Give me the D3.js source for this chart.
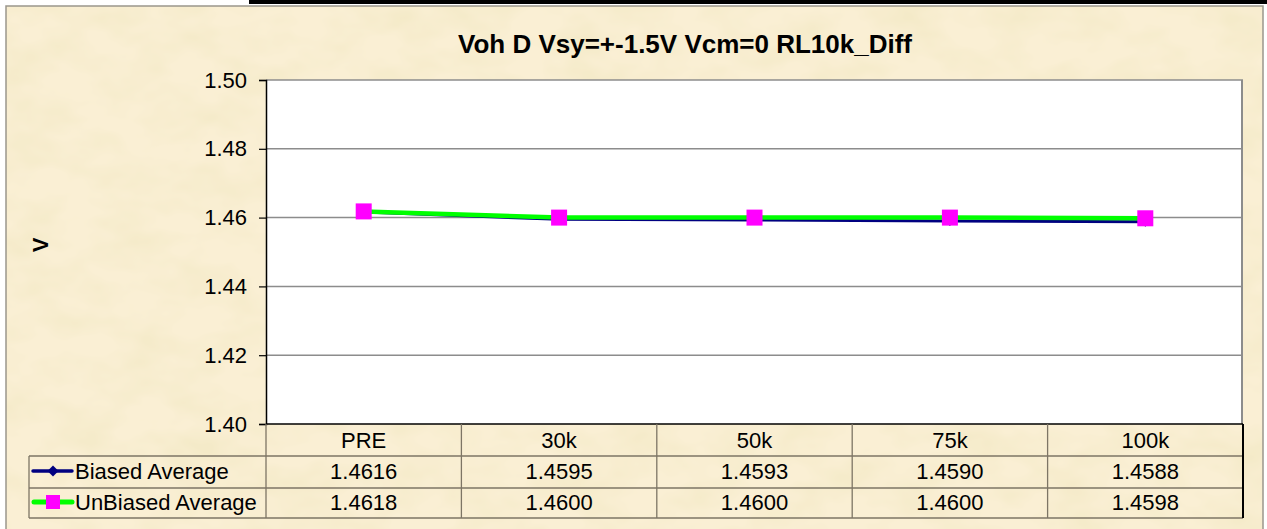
<html>
<head>
<script src="https://cdn.jsdelivr.net/npm/d3@7"></script>
<style>
  body { margin: 0; background: #ffffff; }
  text { font-family: Arial, "Liberation Sans", sans-serif; }
</style>
</head>
<body>
<div id="output"></div>
</body>
</html>

<script>
    var categories = ['PRE', '30k', '50k', '75k', '100k'];
    var biased = [1.4616, 1.4595, 1.4593, 1.4590, 1.4588];
    var unbiased = [1.4618, 1.4600, 1.4600, 1.4600, 1.4598];
    var yTicks = [1.40, 1.42, 1.44, 1.46, 1.48, 1.50];
    var seriesNames = ['Biased Average', 'UnBiased Average'];

    var width = 1267, height = 529;
    var plot = {left: 266, right: 1243, top: 80, bottom: 424};
    var rowH = [424, 456, 488, 518];   // table row edges
    var tableLeft = 29;

    var navy = '#000080', green = '#00ff00', magenta = '#ff00ff';

    var svg = d3.select('#output').append('svg')
        .attr('width', width)
        .attr('height', height);

    // parchment background
    var defs = svg.append('defs');
    var f = defs.append('filter').attr('id', 'paper')
        .attr('x', 0).attr('y', 0).attr('width', '100%').attr('height', '100%');
    f.append('feTurbulence')
        .attr('type', 'fractalNoise')
        .attr('baseFrequency', '0.018 0.03')
        .attr('numOctaves', 3)
        .attr('seed', 7);
    f.append('feColorMatrix')
        .attr('type', 'matrix')
        .attr('values', '0 0 0 0 0.80  0 0 0 0 0.74  0 0 0 0 0.42  0.6 0 0 0 -0.22');

    svg.append('rect')
        .attr('x', 6).attr('y', 6)
        .attr('width', 1257).attr('height', 540)
        .attr('fill', '#faefd4');
    svg.append('rect')
        .attr('x', 6).attr('y', 6)
        .attr('width', 1257).attr('height', 540)
        .attr('fill', '#000')
        .attr('filter', 'url(#paper)');
    svg.append('rect')
        .attr('x', 6).attr('y', 6)
        .attr('width', 1257).attr('height', 540)
        .attr('fill', 'none')
        .attr('stroke', '#9a968c')
        .attr('stroke-width', 1.5);

    // black bar at top
    svg.append('rect')
        .attr('x', 249).attr('y', 0)
        .attr('width', width - 249).attr('height', 4)
        .attr('fill', '#000');

    // title
    svg.append('text')
        .attr('x', 685).attr('y', 53)
        .attr('text-anchor', 'middle')
        .attr('font-size', 26)
        .attr('font-weight', 'bold')
        .text('Voh D Vsy=+-1.5V Vcm=0 RL10k_Diff');

    var x = d3.scaleBand().domain(categories).range([plot.left, plot.right]).padding(0);
    var y = d3.scaleLinear().domain([1.40, 1.50]).range([plot.bottom, plot.top]);
    var cx = function(c) { return x(c) + x.bandwidth() / 2; };

    // plot area
    svg.append('rect')
        .attr('x', plot.left).attr('y', plot.top)
        .attr('width', plot.right - plot.left).attr('height', plot.bottom - plot.top)
        .attr('fill', '#ffffff');

    // gridlines
    svg.append('g').selectAll('line')
        .data(yTicks.slice(1))
        .enter().append('line')
        .attr('x1', plot.left).attr('x2', plot.right)
        .attr('y1', d => y(d)).attr('y2', d => y(d))
        .attr('stroke', '#8c8c8c')
        .attr('stroke-width', 1.5);

    // plot right border
    svg.append('line')
        .attr('x1', plot.right - 1).attr('x2', plot.right - 1)
        .attr('y1', plot.top).attr('y2', plot.bottom)
        .attr('stroke', '#8c8c8c').attr('stroke-width', 2);

    // y axis
    var yAxis = d3.axisLeft(y).tickValues(yTicks).tickFormat(d3.format('.2f')).tickSize(7).tickPadding(12);
    var ga = svg.append('g')
        .attr('transform', 'translate(' + plot.left + ',0)')
        .call(yAxis);
    ga.select('.domain').attr('stroke', '#000').attr('stroke-width', 1.5);
    ga.selectAll('.tick line').attr('stroke', '#000').attr('stroke-width', 1.2);
    ga.selectAll('.tick text')
        .attr('font-size', 22)
        .attr('font-family', 'Arial, "Liberation Sans", sans-serif')
        .attr('fill', '#000');

    // bottom axis line
    svg.append('line')
        .attr('x1', plot.left).attr('x2', plot.right)
        .attr('y1', plot.bottom).attr('y2', plot.bottom)
        .attr('stroke', '#000').attr('stroke-width', 1.5);

    // y axis title
    svg.append('text')
        .attr('transform', 'translate(48,245) rotate(-90)')
        .attr('text-anchor', 'middle')
        .attr('font-size', 22)
        .attr('font-weight', 'bold')
        .text('V');

    // series
    var line = d3.line()
        .x((d, i) => cx(categories[i]))
        .y(d => y(d));

    svg.append('path')
        .datum(biased)
        .attr('d', line)
        .attr('fill', 'none')
        .attr('stroke', navy)
        .attr('stroke-width', 3);

    // regular diamond = square turned 45 degrees
    var diamond = d3.symbol().type(d3.symbolSquare).size(50);
    svg.append('g').selectAll('path')
        .data(biased)
        .enter().append('path')
        .attr('d', diamond)
        .attr('transform', (d, i) => 'translate(' + cx(categories[i]) + ',' + y(d) + ') rotate(45)')
        .attr('fill', navy);

    svg.append('path')
        .datum(unbiased)
        .attr('d', line)
        .attr('fill', 'none')
        .attr('stroke', green)
        .attr('stroke-width', 4.5);

    svg.append('g').selectAll('rect')
        .data(unbiased)
        .enter().append('rect')
        .attr('x', (d, i) => cx(categories[i]) - 8)
        .attr('y', d => y(d) - 8)
        .attr('width', 16).attr('height', 16)
        .attr('fill', magenta);

    // data table
    var tcol = '#7d7565';
    var tg = svg.append('g');
    rowH.slice(1).forEach(function(yy) {
        tg.append('line')
            .attr('x1', tableLeft).attr('x2', plot.right)
            .attr('y1', yy).attr('y2', yy)
            .attr('stroke', tcol).attr('stroke-width', 1.3);
    });
    tg.append('line')
        .attr('x1', tableLeft).attr('x2', tableLeft)
        .attr('y1', rowH[1]).attr('y2', rowH[3])
        .attr('stroke', tcol).attr('stroke-width', 1.3);
    tg.selectAll('line.col')
        .data(categories)
        .enter().append('line')
        .attr('class', 'col')
        .attr('x1', d => x(d)).attr('x2', d => x(d))
        .attr('y1', rowH[0]).attr('y2', rowH[3])
        .attr('stroke', tcol).attr('stroke-width', 1.3);
    tg.append('line')
        .attr('x1', plot.right).attr('x2', plot.right)
        .attr('y1', rowH[0]).attr('y2', rowH[3])
        .attr('stroke', '#000').attr('stroke-width', 2);

    // header
    tg.selectAll('text.cat')
        .data(categories)
        .enter().append('text')
        .attr('class', 'cat')
        .attr('x', d => cx(d))
        .attr('y', (rowH[0] + rowH[1]) / 2)
        .attr('dy', '0.36em')
        .attr('text-anchor', 'middle')
        .attr('font-size', 22)
        .text(d => d);

    var rows = [biased, unbiased];
    rows.forEach(function(vals, r) {
        var yc = (rowH[r + 1] + rowH[r + 2]) / 2 - 1;
        tg.selectAll('text.v' + r)
            .data(vals)
            .enter().append('text')
            .attr('x', (d, i) => cx(categories[i]))
            .attr('y', yc)
            .attr('dy', '0.36em')
            .attr('text-anchor', 'middle')
            .attr('font-size', 22)
            .text(d => d3.format('.4f')(d));

        tg.append('text')
            .attr('x', 75)
            .attr('y', yc)
            .attr('dy', '0.36em')
            .attr('font-size', 22)
            .text(seriesNames[r]);
    });

    // legend keys
    var k1 = (rowH[1] + rowH[2]) / 2 - 1;
    var k2 = (rowH[2] + rowH[3]) / 2 - 1;
    tg.append('line')
        .attr('x1', 33).attr('x2', 72).attr('y1', k1).attr('y2', k1)
        .attr('stroke', navy).attr('stroke-width', 3.5).attr('stroke-linecap', 'round');
    tg.append('path')
        .attr('d', d3.symbol().type(d3.symbolSquare).size(60))
        .attr('transform', 'translate(53,' + k1 + ') rotate(45)')
        .attr('fill', navy);
    tg.append('line')
        .attr('x1', 34).attr('x2', 72).attr('y1', k2).attr('y2', k2)
        .attr('stroke', green).attr('stroke-width', 5).attr('stroke-linecap', 'round');
    tg.append('rect')
        .attr('x', 46).attr('y', k2 - 7)
        .attr('width', 14).attr('height', 14)
        .attr('fill', magenta);
</script>
